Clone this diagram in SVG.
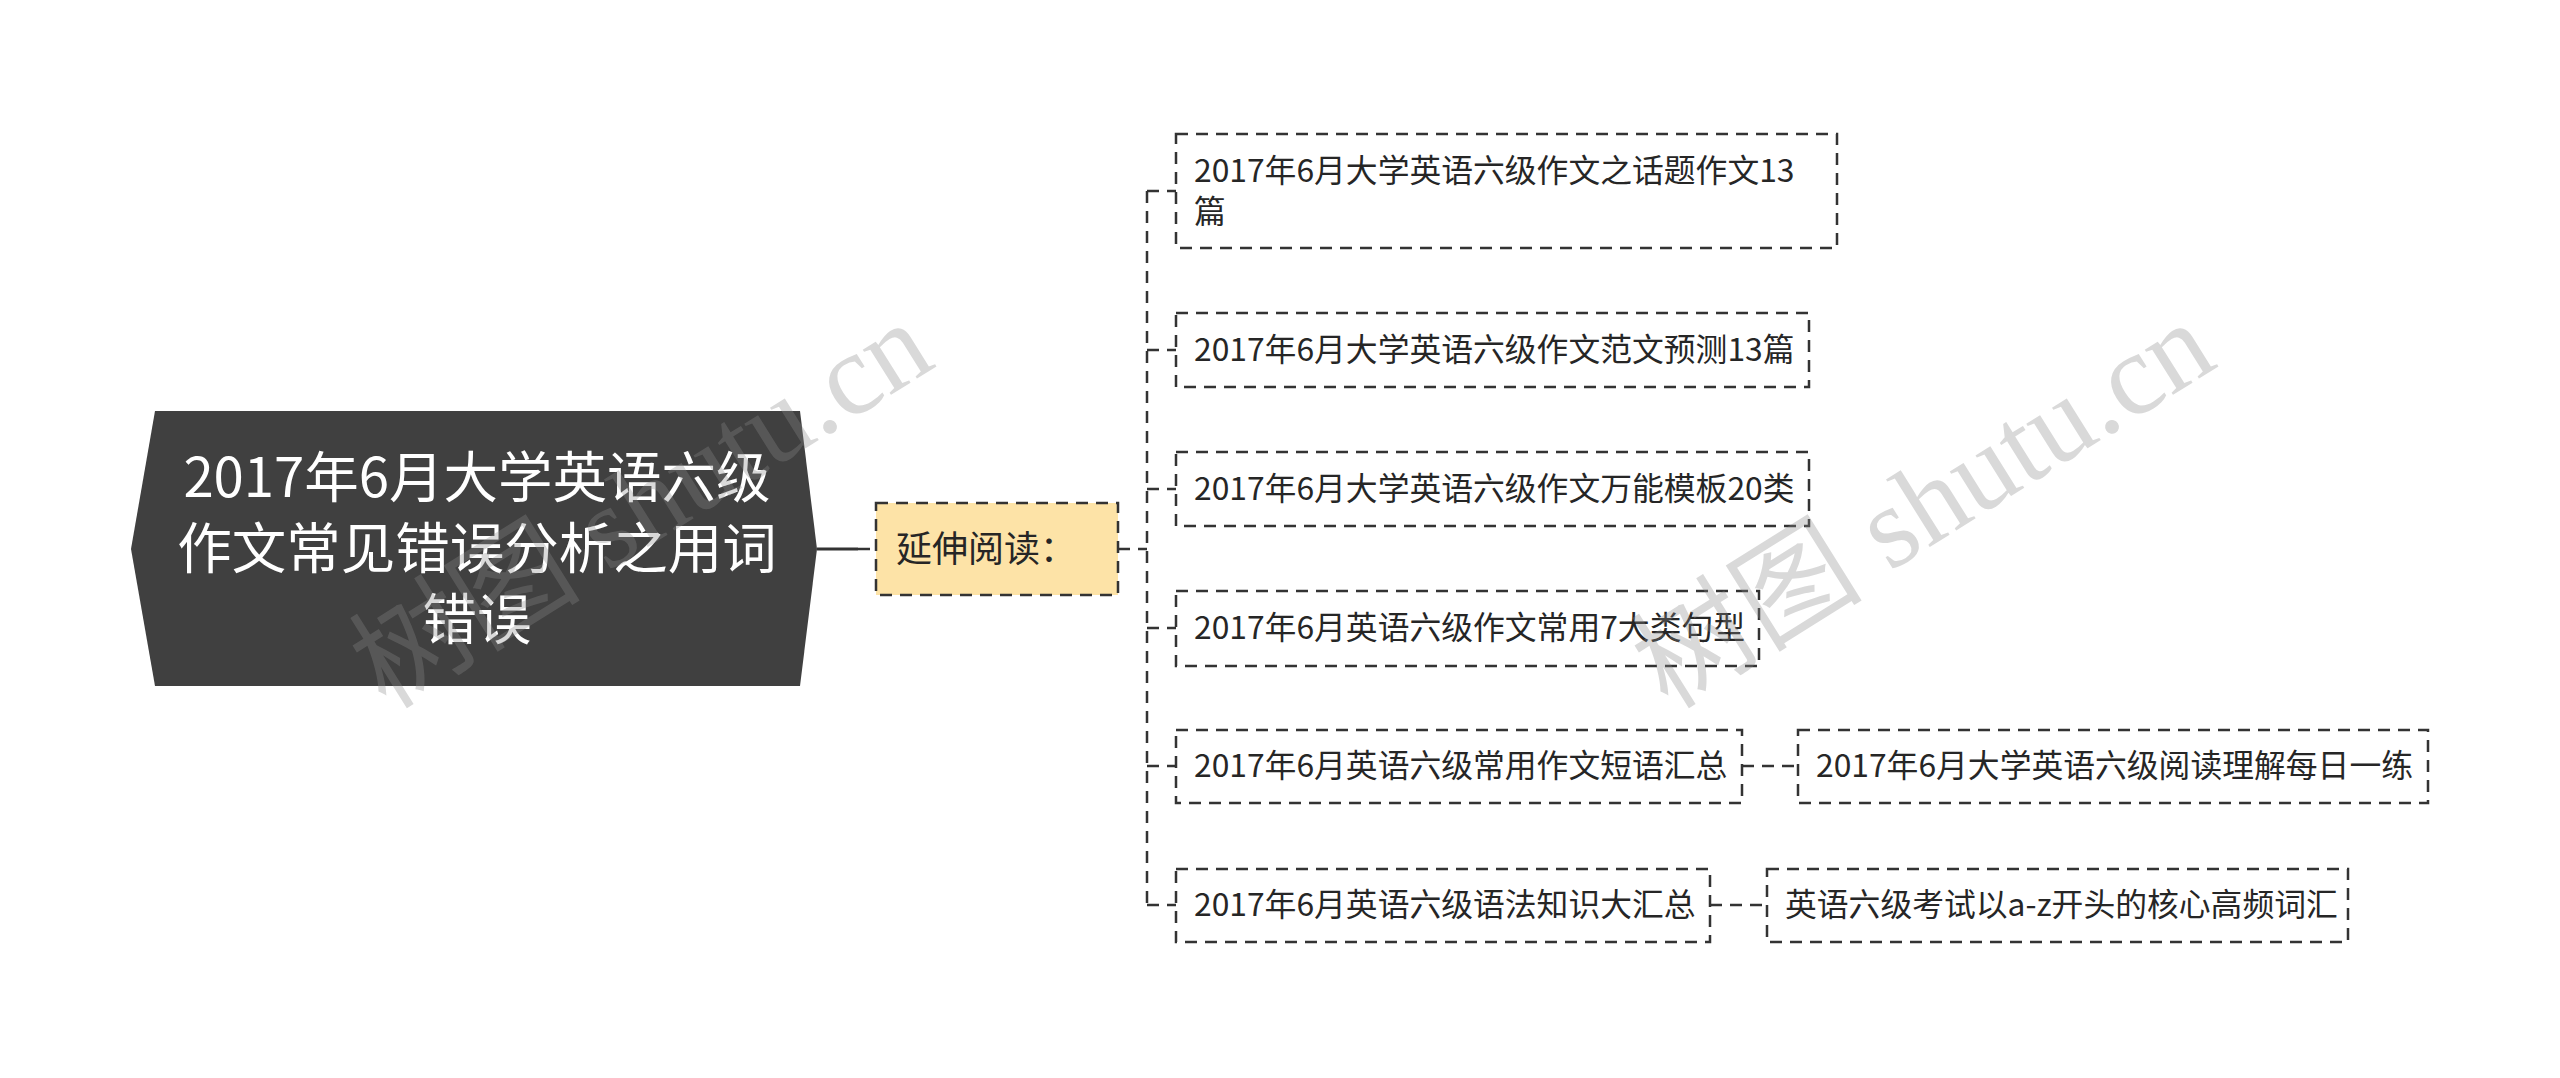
<svg xmlns="http://www.w3.org/2000/svg" width="2560" height="1078" viewBox="0 0 2560 1078">
<style>
  .box { fill: #ffffff; stroke: #333333; stroke-width: 2.5; stroke-dasharray: 12 8; }
  .hl { fill: #fde3a7; stroke: #333333; stroke-width: 2.5; stroke-dasharray: 12 8; }
  .t { font-family: "Noto Sans CJK SC", "Liberation Sans", sans-serif; font-size: 31.8px; fill: #262626; }
  .t2 { font-family: "Noto Sans CJK SC", "Liberation Sans", sans-serif; font-size: 36px; fill: #262626; }
  .rt { font-family: "Noto Sans CJK SC", "Liberation Sans", sans-serif; font-size: 54.5px; fill: #ffffff; text-anchor: middle; }
  .ln { fill: none; stroke: #333333; stroke-width: 2.5; stroke-dasharray: 12 8; }
  .wm { font-family: "Liberation Serif", "Noto Sans CJK SC", serif; font-size: 116px; fill: #8a8a8a; opacity: 0.32; text-anchor: middle; }
</style>
<rect width="2560" height="1078" fill="#ffffff"/>
<g id="connectors">
  <line x1="817" y1="549" x2="858" y2="549" stroke="#333333" stroke-width="3"/>
  <line x1="858" y1="549" x2="876" y2="549" class="ln"/>
  <line x1="1118" y1="549" x2="1147" y2="549" class="ln"/>
  <line x1="1147" y1="191" x2="1147" y2="905" class="ln"/>
  <line x1="1147" y1="191" x2="1176" y2="191" class="ln"/>
  <line x1="1147" y1="350" x2="1176" y2="350" class="ln"/>
  <line x1="1147" y1="489" x2="1176" y2="489" class="ln"/>
  <line x1="1147" y1="628" x2="1176" y2="628" class="ln"/>
  <line x1="1147" y1="766" x2="1176" y2="766" class="ln"/>
  <line x1="1147" y1="905" x2="1176" y2="905" class="ln"/>
  <line x1="1742" y1="766" x2="1798" y2="766" class="ln"/>
  <line x1="1710" y1="905" x2="1767" y2="905" class="ln"/>
</g>
<g id="root">
  <polygon points="131,549 155,411 800,411 817,549 800,686 155,686" fill="#404040"/>
  <text class="rt"><tspan x="477" y="497">2017年6月大学英语六级</tspan><tspan x="477" y="568">作文常见错误分析之用词</tspan><tspan x="477" y="639">错误</tspan></text>
</g>
<g id="n-extend">
  <rect class="hl" x="876" y="503" width="242" height="92"/>
  <text class="t2" x="896" y="562">延伸阅读：</text>
</g>
<g id="n1">
  <rect class="box" x="1176" y="134" width="661" height="114"/>
  <text class="t"><tspan x="1194" y="182">2017年6月大学英语六级作文之话题作文13</tspan><tspan x="1194" y="223">篇</tspan></text>
</g>
<g id="n2">
  <rect class="box" x="1176" y="313" width="633" height="74"/>
  <text class="t" x="1194" y="361">2017年6月大学英语六级作文范文预测13篇</text>
</g>
<g id="n3">
  <rect class="box" x="1176" y="452" width="633" height="74"/>
  <text class="t" x="1194" y="500">2017年6月大学英语六级作文万能模板20类</text>
</g>
<g id="n4">
  <rect class="box" x="1176" y="591" width="583" height="75"/>
  <text class="t" x="1194" y="639">2017年6月英语六级作文常用7大类句型</text>
</g>
<g id="n5">
  <rect class="box" x="1176" y="730" width="566" height="73"/>
  <text class="t" x="1194" y="777">2017年6月英语六级常用作文短语汇总</text>
</g>
<g id="n5b">
  <rect class="box" x="1798" y="730" width="630" height="73"/>
  <text class="t" x="1816" y="777">2017年6月大学英语六级阅读理解每日一练</text>
</g>
<g id="n6">
  <rect class="box" x="1176" y="869" width="534" height="73"/>
  <text class="t" x="1194" y="916">2017年6月英语六级语法知识大汇总</text>
</g>
<g id="n6b">
  <rect class="box" x="1767" y="869" width="581" height="73"/>
  <text class="t" x="1785" y="916">英语六级考试以a-z开头的核心高频词汇</text>
</g>
<g id="watermark">
  <text class="wm" transform="translate(662,538) rotate(-32)">树图 shutu.cn</text>
  <text class="wm" transform="translate(1944,538) rotate(-32)">树图 shutu.cn</text>
</g>
</svg>
